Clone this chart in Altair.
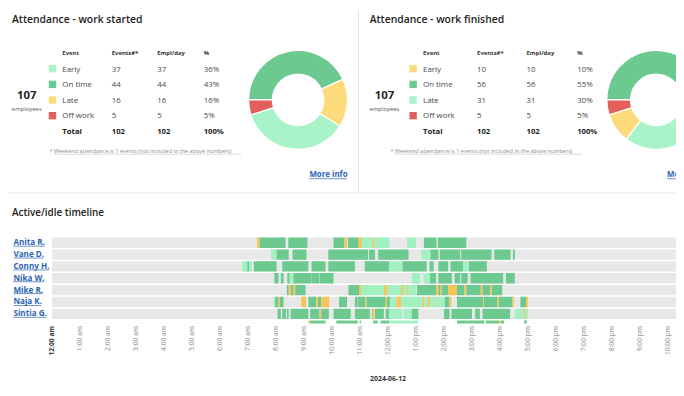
import math
import altair as alt
import pandas as pd

FONT = "Open Sans"
PI = math.pi

# ---------------- data ----------------
events = ["Early", "On time", "Late", "Off work"]
donut_order = ["On time", "Late", "Early", "Off work"]
table_headers = ["Event", "Events#*", "Empl/day", "%"]

started_title = "Attendance - work started"
started_events = [37, 44, 16, 5]
started_empl = [37, 44, 16, 5]
started_pct = [36, 43, 16, 5]
started_total = [102, 102, 100]

finished_title = "Attendance - work finished"
finished_events = [10, 56, 31, 5]
finished_empl = [10, 56, 31, 5]
finished_pct = [10, 55, 30, 5]
finished_total = [102, 102, 100]

employee_count = 107
employees_word = "employees"
footnote_text = "* Weekend attendance is 1 events (not included in the above numbers)"
more_info_text = "More info"

timeline_title = "Active/idle timeline"
timeline_date = "2024-06-12"
employee_names = ["Anita R.", "Vane D.", "Conny H.", "Nika W.", "Mike R.", "Naja K.", "Sintia G."]
statuses = ["Active", "Passive", "Idle"]
hour_ticks = list(range(0, 23))

anita = [("07:20", "07:26", "Idle"), ("07:26", "08:21", "Active"), ("08:27", "09:08", "Active"),
         ("10:04", "10:27", "Active"), ("10:27", "10:33", "Idle"), ("10:35", "10:58", "Active"),
         ("10:58", "11:05", "Idle"), ("11:05", "11:28", "Passive"), ("11:28", "11:32", "Idle"),
         ("11:32", "12:04", "Passive"), ("12:42", "13:01", "Passive"), ("13:18", "13:45", "Active"),
         ("13:48", "14:49", "Active")]
vane = [("07:50", "08:02", "Passive"), ("08:02", "08:28", "Active"), ("08:36", "09:06", "Active"),
        ("09:53", "11:18", "Active"), ("11:20", "11:33", "Active"), ("11:40", "12:45", "Active"),
        ("13:12", "13:32", "Passive"), ("13:32", "13:49", "Active"), ("13:52", "14:36", "Active"),
        ("14:38", "15:43", "Active"), ("15:49", "16:24", "Active"), ("16:29", "16:33", "Active")]
conny = [("06:48", "06:59", "Passive"), ("06:59", "07:03", "Active"), ("07:03", "07:09", "Passive"),
         ("07:13", "08:02", "Active"), ("08:14", "09:10", "Active"), ("09:17", "09:47", "Active"),
         ("09:53", "10:50", "Active"), ("11:11", "12:03", "Active"), ("12:03", "12:31", "Passive"),
         ("12:32", "13:24", "Active"), ("13:30", "13:39", "Active"), ("13:49", "14:10", "Active"),
         ("14:15", "14:42", "Active"), ("14:42", "14:52", "Passive"), ("14:54", "15:33", "Active")]
nika = [("07:57", "08:06", "Active"), ("08:11", "08:17", "Active"), ("08:25", "08:30", "Active"),
        ("08:30", "08:38", "Passive"), ("08:38", "09:17", "Active"), ("09:18", "09:34", "Active"),
        ("09:35", "10:04", "Active"), ("12:52", "13:10", "Passive"), ("13:17", "13:31", "Passive"),
        ("13:31", "13:44", "Active"), ("13:49", "14:18", "Active"), ("14:24", "14:36", "Active"),
        ("14:38", "14:52", "Active"), ("14:58", "16:08", "Active"), ("16:14", "16:33", "Active")]
mike = [("08:24", "08:28", "Active"), ("08:28", "08:33", "Idle"), ("08:33", "08:38", "Active"),
        ("08:38", "08:42", "Idle"), ("08:42", "09:04", "Active"), ("10:36", "10:59", "Active"),
        ("10:59", "11:04", "Idle"), ("11:04", "11:52", "Passive"), ("11:52", "11:59", "Idle"),
        ("11:59", "12:29", "Passive"), ("12:29", "12:33", "Idle"), ("12:33", "12:42", "Passive"),
        ("12:42", "12:45", "Idle"), ("12:45", "13:01", "Passive"), ("13:03", "13:44", "Active"),
        ("13:44", "13:49", "Idle"), ("13:49", "13:54", "Active"), ("13:54", "13:57", "Idle"),
        ("13:57", "14:10", "Active"), ("14:10", "14:29", "Idle"), ("14:29", "14:45", "Active"),
        ("14:45", "14:49", "Idle"), ("14:49", "15:20", "Active"), ("15:20", "15:24", "Idle"),
        ("15:24", "15:40", "Active"), ("15:40", "15:44", "Idle"), ("15:44", "16:06", "Active")]
naja = [("07:55", "07:59", "Passive"), ("07:59", "08:06", "Active"), ("08:06", "08:09", "Idle"),
        ("08:09", "08:17", "Active"), ("08:55", "09:05", "Idle"), ("09:10", "09:27", "Active"),
        ("09:27", "09:31", "Idle"), ("09:31", "09:38", "Active"), ("09:38", "09:55", "Idle"),
        ("10:16", "10:33", "Active"), ("10:50", "10:56", "Active"), ("10:57", "11:12", "Active"),
        ("11:12", "11:15", "Idle"), ("11:15", "11:56", "Active"), ("11:56", "11:59", "Idle"),
        ("11:59", "12:05", "Active"), ("12:05", "12:19", "Passive"), ("12:19", "12:29", "Idle"),
        ("12:29", "13:15", "Passive"), ("13:15", "13:19", "Idle"), ("13:19", "13:27", "Passive"),
        ("13:27", "13:31", "Idle"), ("13:31", "13:43", "Passive"), ("13:43", "13:45", "Idle"),
        ("13:45", "14:03", "Passive"), ("14:03", "14:13", "Active"), ("14:13", "14:17", "Idle"),
        ("14:29", "15:25", "Active"), ("15:25", "15:27", "Idle"), ("15:27", "15:56", "Active"),
        ("15:56", "15:59", "Idle"), ("15:59", "16:28", "Active"), ("16:28", "16:31", "Idle"),
        ("16:45", "16:57", "Active"), ("16:57", "17:01", "Idle")]
sintia = [("08:04", "08:11", "Active"), ("08:14", "08:22", "Active"), ("08:24", "08:28", "Active"),
          ("08:32", "09:10", "Active"), ("09:14", "09:34", "Active"), ("09:34", "09:38", "Idle"),
          ("09:38", "09:54", "Active"), ("10:04", "10:41", "Active"), ("10:50", "11:22", "Active"),
          ("11:26", "11:28", "Active"), ("11:28", "11:32", "Idle"), ("11:33", "11:52", "Active"),
          ("11:56", "12:03", "Active"), ("12:03", "12:31", "Passive"), ("12:34", "12:52", "Passive"),
          ("12:52", "13:06", "Active"), ("14:01", "14:13", "Active"), ("14:17", "15:01", "Active"),
          ("15:08", "15:18", "Active"), ("15:24", "16:23", "Active"), ("16:33", "16:52", "Passive"),
          ("16:52", "16:56", "Idle"), ("16:56", "17:01", "Passive")]
eighth_row = [("09:10", "09:14", "Idle"), ("09:14", "09:47", "Active"), ("10:10", "10:56", "Active"),
              ("11:00", "11:03", "Active"), ("11:29", "11:39", "Active"), ("11:45", "12:03", "Active"),
              ("12:03", "13:06", "Passive"), ("14:29", "15:28", "Active"), ("15:31", "15:59", "Active"),
              ("15:59", "16:03", "Idle"), ("16:03", "16:10", "Active"), ("16:53", "16:59", "Active")]
timeline_rows = [anita, vane, conny, nika, mike, naja, sintia, eighth_row]

# ---------------- styles ----------------
LIGHT = "#a8f4c8"
DARK = "#6cc98f"
YELLOW = "#fdda7c"
RED = "#e25f5b"
BLUE = "#2c63b5"
started_colors = [LIGHT, DARK, YELLOW, RED]
finished_colors = [YELLOW, DARK, LIGHT, RED]
status_colors = [DARK, "#a3f0c3", "#f8c45a"]

W, H = 676, 380


def label(text, x, y, **style):
    return alt.Chart(pd.DataFrame({"t": [text]})).mark_text(font=FONT, **style).encode(
        text="t:N", x=alt.value(x), y=alt.value(y))


def hline(x0, x1, y, color, width=0.7):
    return alt.Chart(pd.DataFrame({"k": [0]})).mark_rule(color=color, strokeWidth=width).encode(
        x=alt.value(x0), x2=alt.value(x1), y=alt.value(y))


def panel(title, ev, empl, pct, total, colors, ox, cols, cx, fx):
    cells = [dict(row=0, col=c, text=h, kind="head") for c, h in enumerate(table_headers)]
    for i, e in enumerate(events):
        r = i + 1
        cells += [dict(row=r, col=0, text=e, kind="body"),
                  dict(row=r, col=1, text=str(ev[i]), kind="body"),
                  dict(row=r, col=2, text=str(empl[i]), kind="body"),
                  dict(row=r, col=3, text=f"{pct[i]}%", kind="body")]
    cells += [dict(row=5, col=0, text="Total", kind="total"),
              dict(row=5, col=1, text=str(total[0]), kind="total"),
              dict(row=5, col=2, text=str(total[1]), kind="total"),
              dict(row=5, col=3, text=f"{total[2]}%", kind="total")]
    df = pd.DataFrame(cells)
    xs = alt.X("col:Q", scale=alt.Scale(domain=[0, 1, 2, 3], range=cols), axis=None)
    ys = alt.Y("row:Q", scale=alt.Scale(domain=[0, 1, 5], range=[45.3, 62, 125.3]), axis=None)
    base = alt.Chart(df).encode(x=xs, y=ys, text="text:N")
    head = base.transform_filter("datum.kind == 'head'").mark_text(
        align="left", baseline="alphabetic", font=FONT, fontSize=6, fontWeight="bold", color="#333333")
    body = base.transform_filter("datum.kind == 'body'").mark_text(
        align="left", baseline="alphabetic", font=FONT, fontSize=8, color="#4a4a4a")
    tot = base.transform_filter("datum.kind == 'total'").mark_text(
        align="left", baseline="alphabetic", font=FONT, fontSize=7.8, fontWeight="bold", color="#222222")

    cscale = alt.Scale(domain=events, range=colors)
    sw_df = pd.DataFrame({"event": events, "row": [1, 2, 3, 4], "col": [0, 0, 0, 0]})
    swatch = alt.Chart(sw_df).mark_square(size=56, opacity=1, xOffset=-10, yOffset=-2.8).encode(
        x=xs, y=ys, color=alt.Color("event:N", scale=cscale, legend=None))

    pie_df = pd.DataFrame({"event": events, "value": ev,
                           "ord": [donut_order.index(e) for e in events]})
    donut = alt.Chart(pie_df).mark_arc(outerRadius=50, innerRadius=26, stroke="white",
                                       strokeWidth=1.2, clip=True).encode(
        theta=alt.Theta("value:Q", stack=True, scale=alt.Scale(range=[1.5 * PI, 3.5 * PI])),
        color=alt.Color("event:N", scale=cscale, legend=None),
        order=alt.Order("ord:Q"),
        x=alt.value(cx), y=alt.value(90.7))

    t = label(title, ox + 4, 12.5, align="left", baseline="alphabetic", fontSize=10.5,
              fontWeight=600, color="#222222")
    n = label(str(employee_count), ox + 19, 90.3, align="center", baseline="alphabetic",
              fontSize=11.5, fontWeight="bold", color="#222222")
    emp = label(employees_word, ox + 19, 102, align="center", baseline="alphabetic",
                fontSize=6, color="#555555")
    fn = label(footnote_text, fx, 144, align="left", baseline="alphabetic",
               fontSize=5.6, color="#8c8c8c")
    fn_ul = hline(fx + 4, fx + 194, 145.6, "#b0b0b0", 0.5)
    mi = label(more_info_text, ox + 305, 169, align="left", baseline="alphabetic", fontSize=8,
               fontWeight="bold", color=BLUE)
    mi_ul = hline(ox + 305, ox + 343, 170.5, BLUE, 0.7)
    return alt.layer(head, body, tot, swatch, donut, t, n, emp, fn, fn_ul, mi, mi_ul)


p1 = panel(started_title, started_events, started_empl, started_pct, started_total,
           started_colors, 0, [55, 105, 151, 198], 293.5, 42)
p2 = panel(finished_title, finished_events, finished_empl, finished_pct, finished_total,
           finished_colors, 362, [420, 474.7, 524.7, 576], 656, 387)

dividers = alt.layer(
    alt.Chart(pd.DataFrame({"k": [0]})).mark_rule(color="#e6e6e6", strokeWidth=1).encode(
        x=alt.value(354.7), y=alt.value(0), y2=alt.value(185)),
    hline(0, W, 185, "#e6e6e6", 1),
)

# ---------------- timeline ----------------


def hours(s):
    h, m = s.split(":")
    return int(h) + int(m) / 60


segs = []
for i, row in enumerate(timeline_rows):
    for s, e, st in row:
        segs.append(dict(row=i, start=hours(s), end=hours(e), status=st))
seg_df = pd.DataFrame(segs)
band_df = pd.DataFrame({"row": list(range(len(employee_names))),
                        "start": [0] * len(employee_names), "end": [24] * len(employee_names)})

x_scale = alt.Scale(domain=[0, 24], range=[44.5, 44.5 + 24 * 28.3])
y_scale = alt.Scale(domain=[0, 7.25], range=[230, 317], clamp=True)
x_axis = alt.Axis(
    values=hour_ticks,
    labelExpr="(datum.value % 12 == 0 ? 12 : datum.value % 12) + ':00 ' + (datum.value < 12 ? 'am' : 'pm')",
    labelAngle=-90, labelFont=FONT, labelFontSize=6.8, labelPadding=2,
    labelColor={"condition": {"test": "datum.value == 0", "value": "#333333"}, "value": "#8a8a8a"},
    labelFontWeight={"condition": {"test": "datum.value == 0", "value": "bold"}, "value": "normal"},
    labelFlush=False, labelOverlap=False, ticks=False, domain=False, grid=False,
    offset=-(H - 317), title=timeline_date, titleFont=FONT, titleFontSize=7,
    titleFontWeight="bold", titleColor="#333333", titleY=58, titleBaseline="alphabetic",
)

bands = alt.Chart(band_df).transform_calculate(y0="datum.row", y1="datum.row + 0.875").mark_rect(
    color="#e8e8e8", clip=True).encode(
    x=alt.X("start:Q", scale=x_scale, axis=x_axis), x2="end:Q",
    y=alt.Y("y0:Q", scale=y_scale, axis=None), y2="y1:Q")
bars = alt.Chart(seg_df).transform_calculate(y0="datum.row", y1="datum.row + 0.875").mark_rect(
    clip=True).encode(
    x=alt.X("start:Q", scale=x_scale, axis=x_axis), x2="end:Q",
    y=alt.Y("y0:Q", scale=y_scale, axis=None), y2="y1:Q",
    color=alt.Color("status:N", scale=alt.Scale(domain=statuses, range=status_colors), legend=None))
timeline = alt.layer(bands, bars)

# names with underline
CW = {"A": .69, "C": .63, "D": .73, "G": .72, "H": .75, "K": .66, "M": .92, "N": .78, "R": .66,
      "S": .55, "V": .64, "W": .99, "a": .57, "e": .57, "i": .30, "j": .30, "k": .60, "n": .64,
      "o": .62, "t": .43, "y": .56, " ": .26, ".": .29}
NAME_FS = 8.2
names_df = pd.DataFrame({
    "name": employee_names,
    "row": list(range(len(employee_names))),
    "ux1": [5.5 + NAME_FS * sum(CW.get(c, .58) for c in nm) for nm in employee_names],
})
names_base = alt.Chart(names_df).transform_calculate(
    ty="datum.row + 0.64", uy="datum.row + 0.73", ux0="5.5")
name_text = names_base.mark_text(align="left", baseline="alphabetic", font=FONT, fontSize=NAME_FS,
                                 fontWeight="bold", color=BLUE).encode(
    text="name:N", x=alt.value(5.5), y=alt.Y("ty:Q", scale=y_scale, axis=None))
name_ul = names_base.mark_rule(color=BLUE, strokeWidth=0.7).encode(
    x=alt.X("ux0:Q", scale=None, axis=None), x2="ux1:Q",
    y=alt.Y("uy:Q", scale=y_scale, axis=None))
names = alt.layer(name_text, name_ul)

tl_title = label(timeline_title, 4, 208.5, align="left", baseline="alphabetic", fontSize=10,
                 fontWeight=600, color="#222222")

chart = alt.layer(p1, p2, dividers, timeline, names, tl_title).resolve_scale(
    x="independent", y="independent", color="independent", theta="independent"
).properties(
    width=W, height=H, autosize=alt.AutoSizeParams(type="none"), padding=0,
    background="white"
).configure_view(strokeWidth=0, stroke="transparent").configure_axis(
    domain=False, grid=False
)

chart.save("out.html", embed_options={"renderer": "svg", "actions": False})
